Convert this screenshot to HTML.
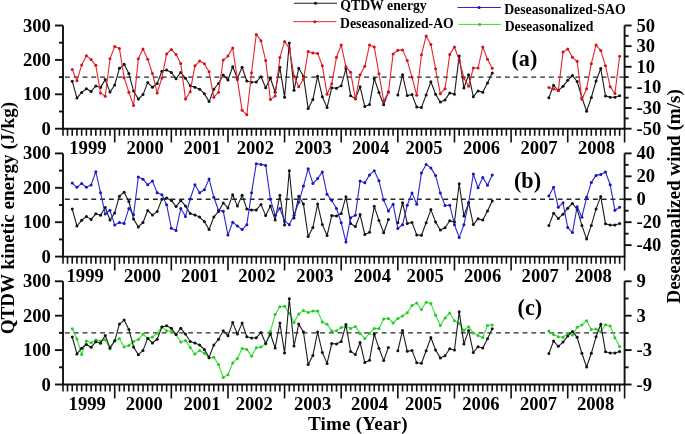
<!DOCTYPE html><html><head><meta charset="utf-8"><style>html,body{margin:0;padding:0;background:#fff;}svg{display:block;will-change:transform;}text{font-family:"Liberation Serif",serif;font-weight:bold;fill:#000;}</style></head><body>
<svg width="685" height="434" viewBox="0 0 685 434">
<rect width="685" height="434" fill="#fff"/>
<path d="M63 25.5 V128.7 H624.6 V25.5" fill="none" stroke="#111" stroke-width="1.9"/>
<path d="M63 128.7 h-8" stroke="#111" stroke-width="1.9"/>
<text x="50.8" y="128.2" font-size="18.6" text-anchor="end" dominant-baseline="central">0</text>
<path d="M63 111.5 h-4" stroke="#111" stroke-width="1.9"/>
<path d="M63 94.3 h-8" stroke="#111" stroke-width="1.9"/>
<text x="50.8" y="93.8" font-size="18.6" text-anchor="end" dominant-baseline="central">100</text>
<path d="M63 77.1 h-4" stroke="#111" stroke-width="1.9"/>
<path d="M63 59.9 h-8" stroke="#111" stroke-width="1.9"/>
<text x="50.8" y="59.4" font-size="18.6" text-anchor="end" dominant-baseline="central">200</text>
<path d="M63 42.7 h-4" stroke="#111" stroke-width="1.9"/>
<path d="M63 25.5 h-8" stroke="#111" stroke-width="1.9"/>
<text x="50.8" y="25" font-size="18.6" text-anchor="end" dominant-baseline="central">300</text>
<path d="M624.6 25.5 h7" stroke="#111" stroke-width="1.9"/>
<text x="636.5" y="25" font-size="18.6" dominant-baseline="central">50</text>
<path d="M624.6 46.14 h7" stroke="#111" stroke-width="1.9"/>
<text x="636.5" y="45.64" font-size="18.6" dominant-baseline="central">30</text>
<path d="M624.6 66.78 h7" stroke="#111" stroke-width="1.9"/>
<text x="636.5" y="66.28" font-size="18.6" dominant-baseline="central">10</text>
<path d="M624.6 87.42 h7" stroke="#111" stroke-width="1.9"/>
<text x="636.5" y="86.92" font-size="18.6" dominant-baseline="central">-10</text>
<path d="M624.6 108.06 h7" stroke="#111" stroke-width="1.9"/>
<text x="636.5" y="107.56" font-size="18.6" dominant-baseline="central">-30</text>
<path d="M624.6 128.7 h7" stroke="#111" stroke-width="1.9"/>
<text x="636.5" y="128.2" font-size="18.6" dominant-baseline="central">-50</text>
<path d="M624.6 35.82 h4" stroke="#111" stroke-width="1.9"/>
<path d="M624.6 56.46 h4" stroke="#111" stroke-width="1.9"/>
<path d="M624.6 77.1 h4" stroke="#111" stroke-width="1.9"/>
<path d="M624.6 97.74 h4" stroke="#111" stroke-width="1.9"/>
<path d="M624.6 118.38 h4" stroke="#111" stroke-width="1.9"/>
<path d="M63 128.7 v7.1 M67.51 128.7 v7.1 M72.23 128.7 v7.1 M76.95 128.7 v7.1 M81.67 128.7 v7.1 M86.39 128.7 v7.1 M91.11 128.7 v7.1 M95.82 128.7 v7.1 M100.54 128.7 v7.1 M105.26 128.7 v7.1 M109.98 128.7 v7.1 M114.7 128.7 v13.9 M119.42 128.7 v7.1 M124.14 128.7 v7.1 M128.86 128.7 v7.1 M133.58 128.7 v7.1 M138.3 128.7 v7.1 M143.01 128.7 v7.1 M147.73 128.7 v7.1 M152.45 128.7 v7.1 M157.17 128.7 v7.1 M161.89 128.7 v7.1 M166.61 128.7 v7.1 M171.33 128.7 v13.9 M176.05 128.7 v7.1 M180.77 128.7 v7.1 M185.49 128.7 v7.1 M190.2 128.7 v7.1 M194.92 128.7 v7.1 M199.64 128.7 v7.1 M204.36 128.7 v7.1 M209.08 128.7 v7.1 M213.8 128.7 v7.1 M218.52 128.7 v7.1 M223.24 128.7 v7.1 M227.96 128.7 v13.9 M232.68 128.7 v7.1 M237.39 128.7 v7.1 M242.11 128.7 v7.1 M246.83 128.7 v7.1 M251.55 128.7 v7.1 M256.27 128.7 v7.1 M260.99 128.7 v7.1 M265.71 128.7 v7.1 M270.43 128.7 v7.1 M275.15 128.7 v7.1 M279.87 128.7 v7.1 M284.58 128.7 v13.9 M289.3 128.7 v7.1 M294.02 128.7 v7.1 M298.74 128.7 v7.1 M303.46 128.7 v7.1 M308.18 128.7 v7.1 M312.9 128.7 v7.1 M317.62 128.7 v7.1 M322.34 128.7 v7.1 M327.06 128.7 v7.1 M331.77 128.7 v7.1 M336.49 128.7 v7.1 M341.21 128.7 v13.9 M345.93 128.7 v7.1 M350.65 128.7 v7.1 M355.37 128.7 v7.1 M360.09 128.7 v7.1 M364.81 128.7 v7.1 M369.53 128.7 v7.1 M374.25 128.7 v7.1 M378.96 128.7 v7.1 M383.68 128.7 v7.1 M388.4 128.7 v7.1 M393.12 128.7 v7.1 M397.84 128.7 v13.9 M402.56 128.7 v7.1 M407.28 128.7 v7.1 M412 128.7 v7.1 M416.72 128.7 v7.1 M421.44 128.7 v7.1 M426.15 128.7 v7.1 M430.87 128.7 v7.1 M435.59 128.7 v7.1 M440.31 128.7 v7.1 M445.03 128.7 v7.1 M449.75 128.7 v7.1 M454.47 128.7 v13.9 M459.19 128.7 v7.1 M463.91 128.7 v7.1 M468.62 128.7 v7.1 M473.34 128.7 v7.1 M478.06 128.7 v7.1 M482.78 128.7 v7.1 M487.5 128.7 v7.1 M492.22 128.7 v7.1 M496.94 128.7 v7.1 M501.66 128.7 v7.1 M506.38 128.7 v7.1 M511.1 128.7 v13.9 M515.82 128.7 v7.1 M520.53 128.7 v7.1 M525.25 128.7 v7.1 M529.97 128.7 v7.1 M534.69 128.7 v7.1 M539.41 128.7 v7.1 M544.13 128.7 v7.1 M548.85 128.7 v7.1 M553.57 128.7 v7.1 M558.29 128.7 v7.1 M563 128.7 v7.1 M567.72 128.7 v13.9 M572.44 128.7 v7.1 M577.16 128.7 v7.1 M581.88 128.7 v7.1 M586.6 128.7 v7.1 M591.32 128.7 v7.1 M596.04 128.7 v7.1 M600.76 128.7 v7.1 M605.48 128.7 v7.1 M610.2 128.7 v7.1 M614.91 128.7 v7.1 M619.63 128.7 v7.1 M624.6 128.7 v13.9" stroke="#111" stroke-width="1.6"/>
<text x="87.9" y="153.6" font-size="18.6" text-anchor="middle">1999</text>
<text x="145.1" y="153.6" font-size="18.6" text-anchor="middle">2000</text>
<text x="202.2" y="153.6" font-size="18.6" text-anchor="middle">2001</text>
<text x="255.35" y="153.6" font-size="18.6" text-anchor="middle">2002</text>
<text x="313.25" y="153.6" font-size="18.6" text-anchor="middle">2003</text>
<text x="370.6" y="153.6" font-size="18.6" text-anchor="middle">2004</text>
<text x="424" y="153.6" font-size="18.6" text-anchor="middle">2005</text>
<text x="481.55" y="153.6" font-size="18.6" text-anchor="middle">2006</text>
<text x="539" y="153.6" font-size="18.6" text-anchor="middle">2007</text>
<text x="596.55" y="153.6" font-size="18.6" text-anchor="middle">2008</text>
<path d="M64.9 77.1 H624.6" stroke="#262626" stroke-width="1.4" stroke-dasharray="4.9 3.9"/>
<path d="M63 153.4 V256.6 H624.6 V153.4" fill="none" stroke="#111" stroke-width="1.9"/>
<path d="M63 256.6 h-8" stroke="#111" stroke-width="1.9"/>
<text x="50.8" y="256.1" font-size="18.6" text-anchor="end" dominant-baseline="central">0</text>
<path d="M63 239.4 h-4" stroke="#111" stroke-width="1.9"/>
<path d="M63 222.2 h-8" stroke="#111" stroke-width="1.9"/>
<text x="50.8" y="221.7" font-size="18.6" text-anchor="end" dominant-baseline="central">100</text>
<path d="M63 205 h-4" stroke="#111" stroke-width="1.9"/>
<path d="M63 187.8 h-8" stroke="#111" stroke-width="1.9"/>
<text x="50.8" y="187.3" font-size="18.6" text-anchor="end" dominant-baseline="central">200</text>
<path d="M63 170.6 h-4" stroke="#111" stroke-width="1.9"/>
<path d="M63 153.4 h-8" stroke="#111" stroke-width="1.9"/>
<text x="50.8" y="152.9" font-size="18.6" text-anchor="end" dominant-baseline="central">300</text>
<path d="M624.6 153.4 h7" stroke="#111" stroke-width="1.9"/>
<text x="636.5" y="152.9" font-size="18.6" dominant-baseline="central">40</text>
<path d="M624.6 176.33 h7" stroke="#111" stroke-width="1.9"/>
<text x="636.5" y="175.83" font-size="18.6" dominant-baseline="central">20</text>
<path d="M624.6 199.27 h7" stroke="#111" stroke-width="1.9"/>
<text x="636.5" y="198.77" font-size="18.6" dominant-baseline="central">0</text>
<path d="M624.6 222.2 h7" stroke="#111" stroke-width="1.9"/>
<text x="636.5" y="221.7" font-size="18.6" dominant-baseline="central">-20</text>
<path d="M624.6 245.13 h7" stroke="#111" stroke-width="1.9"/>
<text x="636.5" y="244.63" font-size="18.6" dominant-baseline="central">-40</text>
<path d="M624.6 164.87 h4" stroke="#111" stroke-width="1.9"/>
<path d="M624.6 187.8 h4" stroke="#111" stroke-width="1.9"/>
<path d="M624.6 210.73 h4" stroke="#111" stroke-width="1.9"/>
<path d="M624.6 233.67 h4" stroke="#111" stroke-width="1.9"/>
<path d="M63 256.6 v7.1 M67.51 256.6 v7.1 M72.23 256.6 v7.1 M76.95 256.6 v7.1 M81.67 256.6 v7.1 M86.39 256.6 v7.1 M91.11 256.6 v7.1 M95.82 256.6 v7.1 M100.54 256.6 v7.1 M105.26 256.6 v7.1 M109.98 256.6 v7.1 M114.7 256.6 v13.9 M119.42 256.6 v7.1 M124.14 256.6 v7.1 M128.86 256.6 v7.1 M133.58 256.6 v7.1 M138.3 256.6 v7.1 M143.01 256.6 v7.1 M147.73 256.6 v7.1 M152.45 256.6 v7.1 M157.17 256.6 v7.1 M161.89 256.6 v7.1 M166.61 256.6 v7.1 M171.33 256.6 v13.9 M176.05 256.6 v7.1 M180.77 256.6 v7.1 M185.49 256.6 v7.1 M190.2 256.6 v7.1 M194.92 256.6 v7.1 M199.64 256.6 v7.1 M204.36 256.6 v7.1 M209.08 256.6 v7.1 M213.8 256.6 v7.1 M218.52 256.6 v7.1 M223.24 256.6 v7.1 M227.96 256.6 v13.9 M232.68 256.6 v7.1 M237.39 256.6 v7.1 M242.11 256.6 v7.1 M246.83 256.6 v7.1 M251.55 256.6 v7.1 M256.27 256.6 v7.1 M260.99 256.6 v7.1 M265.71 256.6 v7.1 M270.43 256.6 v7.1 M275.15 256.6 v7.1 M279.87 256.6 v7.1 M284.58 256.6 v13.9 M289.3 256.6 v7.1 M294.02 256.6 v7.1 M298.74 256.6 v7.1 M303.46 256.6 v7.1 M308.18 256.6 v7.1 M312.9 256.6 v7.1 M317.62 256.6 v7.1 M322.34 256.6 v7.1 M327.06 256.6 v7.1 M331.77 256.6 v7.1 M336.49 256.6 v7.1 M341.21 256.6 v13.9 M345.93 256.6 v7.1 M350.65 256.6 v7.1 M355.37 256.6 v7.1 M360.09 256.6 v7.1 M364.81 256.6 v7.1 M369.53 256.6 v7.1 M374.25 256.6 v7.1 M378.96 256.6 v7.1 M383.68 256.6 v7.1 M388.4 256.6 v7.1 M393.12 256.6 v7.1 M397.84 256.6 v13.9 M402.56 256.6 v7.1 M407.28 256.6 v7.1 M412 256.6 v7.1 M416.72 256.6 v7.1 M421.44 256.6 v7.1 M426.15 256.6 v7.1 M430.87 256.6 v7.1 M435.59 256.6 v7.1 M440.31 256.6 v7.1 M445.03 256.6 v7.1 M449.75 256.6 v7.1 M454.47 256.6 v13.9 M459.19 256.6 v7.1 M463.91 256.6 v7.1 M468.62 256.6 v7.1 M473.34 256.6 v7.1 M478.06 256.6 v7.1 M482.78 256.6 v7.1 M487.5 256.6 v7.1 M492.22 256.6 v7.1 M496.94 256.6 v7.1 M501.66 256.6 v7.1 M506.38 256.6 v7.1 M511.1 256.6 v13.9 M515.82 256.6 v7.1 M520.53 256.6 v7.1 M525.25 256.6 v7.1 M529.97 256.6 v7.1 M534.69 256.6 v7.1 M539.41 256.6 v7.1 M544.13 256.6 v7.1 M548.85 256.6 v7.1 M553.57 256.6 v7.1 M558.29 256.6 v7.1 M563 256.6 v7.1 M567.72 256.6 v13.9 M572.44 256.6 v7.1 M577.16 256.6 v7.1 M581.88 256.6 v7.1 M586.6 256.6 v7.1 M591.32 256.6 v7.1 M596.04 256.6 v7.1 M600.76 256.6 v7.1 M605.48 256.6 v7.1 M610.2 256.6 v7.1 M614.91 256.6 v7.1 M619.63 256.6 v7.1 M624.6 256.6 v13.9" stroke="#111" stroke-width="1.6"/>
<text x="85.15" y="281.5" font-size="18.6" text-anchor="middle">1999</text>
<text x="142.5" y="281.5" font-size="18.6" text-anchor="middle">2000</text>
<text x="199.7" y="281.5" font-size="18.6" text-anchor="middle">2001</text>
<text x="256.9" y="281.5" font-size="18.6" text-anchor="middle">2002</text>
<text x="314.95" y="281.5" font-size="18.6" text-anchor="middle">2003</text>
<text x="372.35" y="281.5" font-size="18.6" text-anchor="middle">2004</text>
<text x="425.2" y="281.5" font-size="18.6" text-anchor="middle">2005</text>
<text x="482.6" y="281.5" font-size="18.6" text-anchor="middle">2006</text>
<text x="540.2" y="281.5" font-size="18.6" text-anchor="middle">2007</text>
<text x="593.25" y="281.5" font-size="18.6" text-anchor="middle">2008</text>
<path d="M64.9 199.27 H624.6" stroke="#262626" stroke-width="1.4" stroke-dasharray="4.9 3.9"/>
<path d="M63 281.3 V384.5 H624.6 V281.3" fill="none" stroke="#111" stroke-width="1.9"/>
<path d="M63 384.5 h-8" stroke="#111" stroke-width="1.9"/>
<text x="50.8" y="384" font-size="18.6" text-anchor="end" dominant-baseline="central">0</text>
<path d="M63 367.3 h-4" stroke="#111" stroke-width="1.9"/>
<path d="M63 350.1 h-8" stroke="#111" stroke-width="1.9"/>
<text x="50.8" y="349.6" font-size="18.6" text-anchor="end" dominant-baseline="central">100</text>
<path d="M63 332.9 h-4" stroke="#111" stroke-width="1.9"/>
<path d="M63 315.7 h-8" stroke="#111" stroke-width="1.9"/>
<text x="50.8" y="315.2" font-size="18.6" text-anchor="end" dominant-baseline="central">200</text>
<path d="M63 298.5 h-4" stroke="#111" stroke-width="1.9"/>
<path d="M63 281.3 h-8" stroke="#111" stroke-width="1.9"/>
<text x="50.8" y="280.8" font-size="18.6" text-anchor="end" dominant-baseline="central">300</text>
<path d="M624.6 281.3 h7" stroke="#111" stroke-width="1.9"/>
<text x="636.5" y="280.8" font-size="18.6" dominant-baseline="central">9</text>
<path d="M624.6 315.7 h7" stroke="#111" stroke-width="1.9"/>
<text x="636.5" y="315.2" font-size="18.6" dominant-baseline="central">3</text>
<path d="M624.6 350.1 h7" stroke="#111" stroke-width="1.9"/>
<text x="636.5" y="349.6" font-size="18.6" dominant-baseline="central">-3</text>
<path d="M624.6 384.5 h7" stroke="#111" stroke-width="1.9"/>
<text x="636.5" y="384" font-size="18.6" dominant-baseline="central">-9</text>
<path d="M624.6 298.5 h4" stroke="#111" stroke-width="1.9"/>
<path d="M624.6 332.9 h4" stroke="#111" stroke-width="1.9"/>
<path d="M624.6 367.3 h4" stroke="#111" stroke-width="1.9"/>
<path d="M63 384.5 v7.1 M67.51 384.5 v7.1 M72.23 384.5 v7.1 M76.95 384.5 v7.1 M81.67 384.5 v7.1 M86.39 384.5 v7.1 M91.11 384.5 v7.1 M95.82 384.5 v7.1 M100.54 384.5 v7.1 M105.26 384.5 v7.1 M109.98 384.5 v7.1 M114.7 384.5 v13.9 M119.42 384.5 v7.1 M124.14 384.5 v7.1 M128.86 384.5 v7.1 M133.58 384.5 v7.1 M138.3 384.5 v7.1 M143.01 384.5 v7.1 M147.73 384.5 v7.1 M152.45 384.5 v7.1 M157.17 384.5 v7.1 M161.89 384.5 v7.1 M166.61 384.5 v7.1 M171.33 384.5 v13.9 M176.05 384.5 v7.1 M180.77 384.5 v7.1 M185.49 384.5 v7.1 M190.2 384.5 v7.1 M194.92 384.5 v7.1 M199.64 384.5 v7.1 M204.36 384.5 v7.1 M209.08 384.5 v7.1 M213.8 384.5 v7.1 M218.52 384.5 v7.1 M223.24 384.5 v7.1 M227.96 384.5 v13.9 M232.68 384.5 v7.1 M237.39 384.5 v7.1 M242.11 384.5 v7.1 M246.83 384.5 v7.1 M251.55 384.5 v7.1 M256.27 384.5 v7.1 M260.99 384.5 v7.1 M265.71 384.5 v7.1 M270.43 384.5 v7.1 M275.15 384.5 v7.1 M279.87 384.5 v7.1 M284.58 384.5 v13.9 M289.3 384.5 v7.1 M294.02 384.5 v7.1 M298.74 384.5 v7.1 M303.46 384.5 v7.1 M308.18 384.5 v7.1 M312.9 384.5 v7.1 M317.62 384.5 v7.1 M322.34 384.5 v7.1 M327.06 384.5 v7.1 M331.77 384.5 v7.1 M336.49 384.5 v7.1 M341.21 384.5 v13.9 M345.93 384.5 v7.1 M350.65 384.5 v7.1 M355.37 384.5 v7.1 M360.09 384.5 v7.1 M364.81 384.5 v7.1 M369.53 384.5 v7.1 M374.25 384.5 v7.1 M378.96 384.5 v7.1 M383.68 384.5 v7.1 M388.4 384.5 v7.1 M393.12 384.5 v7.1 M397.84 384.5 v13.9 M402.56 384.5 v7.1 M407.28 384.5 v7.1 M412 384.5 v7.1 M416.72 384.5 v7.1 M421.44 384.5 v7.1 M426.15 384.5 v7.1 M430.87 384.5 v7.1 M435.59 384.5 v7.1 M440.31 384.5 v7.1 M445.03 384.5 v7.1 M449.75 384.5 v7.1 M454.47 384.5 v13.9 M459.19 384.5 v7.1 M463.91 384.5 v7.1 M468.62 384.5 v7.1 M473.34 384.5 v7.1 M478.06 384.5 v7.1 M482.78 384.5 v7.1 M487.5 384.5 v7.1 M492.22 384.5 v7.1 M496.94 384.5 v7.1 M501.66 384.5 v7.1 M506.38 384.5 v7.1 M511.1 384.5 v13.9 M515.82 384.5 v7.1 M520.53 384.5 v7.1 M525.25 384.5 v7.1 M529.97 384.5 v7.1 M534.69 384.5 v7.1 M539.41 384.5 v7.1 M544.13 384.5 v7.1 M548.85 384.5 v7.1 M553.57 384.5 v7.1 M558.29 384.5 v7.1 M563 384.5 v7.1 M567.72 384.5 v13.9 M572.44 384.5 v7.1 M577.16 384.5 v7.1 M581.88 384.5 v7.1 M586.6 384.5 v7.1 M591.32 384.5 v7.1 M596.04 384.5 v7.1 M600.76 384.5 v7.1 M605.48 384.5 v7.1 M610.2 384.5 v7.1 M614.91 384.5 v7.1 M619.63 384.5 v7.1 M624.6 384.5 v13.9" stroke="#111" stroke-width="1.6"/>
<text x="87.2" y="410.1" font-size="18.6" text-anchor="middle">1999</text>
<text x="144.3" y="410.1" font-size="18.6" text-anchor="middle">2000</text>
<text x="202" y="410.1" font-size="18.6" text-anchor="middle">2001</text>
<text x="254.3" y="410.1" font-size="18.6" text-anchor="middle">2002</text>
<text x="312.6" y="410.1" font-size="18.6" text-anchor="middle">2003</text>
<text x="369.55" y="410.1" font-size="18.6" text-anchor="middle">2004</text>
<text x="423.5" y="410.1" font-size="18.6" text-anchor="middle">2005</text>
<text x="480.9" y="410.1" font-size="18.6" text-anchor="middle">2006</text>
<text x="538.5" y="410.1" font-size="18.6" text-anchor="middle">2007</text>
<text x="595.6" y="410.1" font-size="18.6" text-anchor="middle">2008</text>
<path d="M64.9 332.9 H624.6" stroke="#262626" stroke-width="1.4" stroke-dasharray="4.9 3.9"/>
<polyline points="72.23,81.2 76.95,98.1 81.67,92.4 86.39,88.7 91.11,91.5 95.82,85.9 100.54,87.4 105.26,79.6 109.98,92.1 114.7,85 119.42,68.3 124.14,64.3 128.86,73.6 133.58,91.1 138.3,99 143.01,94.6 147.73,82.6 152.45,87.2 157.17,83.5 161.89,71.3 166.61,70 171.33,72.5 176.05,78.7 180.77,72.5 185.49,78.2 190.2,85.7 194.92,87.2 199.64,89.2 204.36,93.7 209.08,101.6 213.8,89.2 218.52,83.5 223.24,75 227.96,80 232.68,66.8 237.39,78.2 242.11,67.3 246.83,81 251.55,82.2 256.27,82 260.99,76.7 265.71,87.7 270.43,78.2 275.15,92.2 279.87,67.3 284.58,97.2 289.3,42.9 294.02,90.2 298.74,68.3 303.46,76.2 308.18,108.6 312.9,99.6 317.62,76.2 322.34,96.7 327.06,107.6 331.77,87.7 336.49,88.2 341.21,85.7 345.93,68.8 350.65,95.7 355.37,98.6 360.09,86.7 364.81,106.6 369.53,104.4 374.25,78.4 378.96,92.5 383.68,104.8 388.4,91.7" fill="none" stroke="#1a1a1a" stroke-width="1.1" stroke-linejoin="round"/>
<polyline points="397.84,94.9 402.56,74.8 407.28,95.5 412,94.6 416.72,107 421.44,107.4 426.15,94.9 430.87,81.7 435.59,94.2 440.31,102.1 445.03,99.9 449.75,92.9 454.47,94.2 459.19,55.9 463.91,88.1 468.62,74.8 473.34,96.7 478.06,90.9 482.78,92.2 487.5,83 492.22,73" fill="none" stroke="#1a1a1a" stroke-width="1.1" stroke-linejoin="round"/>
<polyline points="548.85,97.7 553.57,85.3 558.29,90.5 563,86.3 567.72,80.3 572.44,75.6 577.16,81.5 581.88,97.5 586.6,111.2 591.32,97.5 596.04,81 600.76,68.5 605.48,95.9 610.2,97.2 614.91,97.2 619.63,95.7" fill="none" stroke="#1a1a1a" stroke-width="1.1" stroke-linejoin="round"/>
<circle cx="72.23" cy="81.2" r="1.5" fill="#111"/>
<circle cx="76.95" cy="98.1" r="1.5" fill="#111"/>
<circle cx="81.67" cy="92.4" r="1.5" fill="#111"/>
<circle cx="86.39" cy="88.7" r="1.5" fill="#111"/>
<circle cx="91.11" cy="91.5" r="1.5" fill="#111"/>
<circle cx="95.82" cy="85.9" r="1.5" fill="#111"/>
<circle cx="100.54" cy="87.4" r="1.5" fill="#111"/>
<circle cx="105.26" cy="79.6" r="1.5" fill="#111"/>
<circle cx="109.98" cy="92.1" r="1.5" fill="#111"/>
<circle cx="114.7" cy="85" r="1.5" fill="#111"/>
<circle cx="119.42" cy="68.3" r="1.5" fill="#111"/>
<circle cx="124.14" cy="64.3" r="1.5" fill="#111"/>
<circle cx="128.86" cy="73.6" r="1.5" fill="#111"/>
<circle cx="133.58" cy="91.1" r="1.5" fill="#111"/>
<circle cx="138.3" cy="99" r="1.5" fill="#111"/>
<circle cx="143.01" cy="94.6" r="1.5" fill="#111"/>
<circle cx="147.73" cy="82.6" r="1.5" fill="#111"/>
<circle cx="152.45" cy="87.2" r="1.5" fill="#111"/>
<circle cx="157.17" cy="83.5" r="1.5" fill="#111"/>
<circle cx="161.89" cy="71.3" r="1.5" fill="#111"/>
<circle cx="166.61" cy="70" r="1.5" fill="#111"/>
<circle cx="171.33" cy="72.5" r="1.5" fill="#111"/>
<circle cx="176.05" cy="78.7" r="1.5" fill="#111"/>
<circle cx="180.77" cy="72.5" r="1.5" fill="#111"/>
<circle cx="185.49" cy="78.2" r="1.5" fill="#111"/>
<circle cx="190.2" cy="85.7" r="1.5" fill="#111"/>
<circle cx="194.92" cy="87.2" r="1.5" fill="#111"/>
<circle cx="199.64" cy="89.2" r="1.5" fill="#111"/>
<circle cx="204.36" cy="93.7" r="1.5" fill="#111"/>
<circle cx="209.08" cy="101.6" r="1.5" fill="#111"/>
<circle cx="213.8" cy="89.2" r="1.5" fill="#111"/>
<circle cx="218.52" cy="83.5" r="1.5" fill="#111"/>
<circle cx="223.24" cy="75" r="1.5" fill="#111"/>
<circle cx="227.96" cy="80" r="1.5" fill="#111"/>
<circle cx="232.68" cy="66.8" r="1.5" fill="#111"/>
<circle cx="237.39" cy="78.2" r="1.5" fill="#111"/>
<circle cx="242.11" cy="67.3" r="1.5" fill="#111"/>
<circle cx="246.83" cy="81" r="1.5" fill="#111"/>
<circle cx="251.55" cy="82.2" r="1.5" fill="#111"/>
<circle cx="256.27" cy="82" r="1.5" fill="#111"/>
<circle cx="260.99" cy="76.7" r="1.5" fill="#111"/>
<circle cx="265.71" cy="87.7" r="1.5" fill="#111"/>
<circle cx="270.43" cy="78.2" r="1.5" fill="#111"/>
<circle cx="275.15" cy="92.2" r="1.5" fill="#111"/>
<circle cx="279.87" cy="67.3" r="1.5" fill="#111"/>
<circle cx="284.58" cy="97.2" r="1.5" fill="#111"/>
<circle cx="289.3" cy="42.9" r="1.5" fill="#111"/>
<circle cx="294.02" cy="90.2" r="1.5" fill="#111"/>
<circle cx="298.74" cy="68.3" r="1.5" fill="#111"/>
<circle cx="303.46" cy="76.2" r="1.5" fill="#111"/>
<circle cx="308.18" cy="108.6" r="1.5" fill="#111"/>
<circle cx="312.9" cy="99.6" r="1.5" fill="#111"/>
<circle cx="317.62" cy="76.2" r="1.5" fill="#111"/>
<circle cx="322.34" cy="96.7" r="1.5" fill="#111"/>
<circle cx="327.06" cy="107.6" r="1.5" fill="#111"/>
<circle cx="331.77" cy="87.7" r="1.5" fill="#111"/>
<circle cx="336.49" cy="88.2" r="1.5" fill="#111"/>
<circle cx="341.21" cy="85.7" r="1.5" fill="#111"/>
<circle cx="345.93" cy="68.8" r="1.5" fill="#111"/>
<circle cx="350.65" cy="95.7" r="1.5" fill="#111"/>
<circle cx="355.37" cy="98.6" r="1.5" fill="#111"/>
<circle cx="360.09" cy="86.7" r="1.5" fill="#111"/>
<circle cx="364.81" cy="106.6" r="1.5" fill="#111"/>
<circle cx="369.53" cy="104.4" r="1.5" fill="#111"/>
<circle cx="374.25" cy="78.4" r="1.5" fill="#111"/>
<circle cx="378.96" cy="92.5" r="1.5" fill="#111"/>
<circle cx="383.68" cy="104.8" r="1.5" fill="#111"/>
<circle cx="388.4" cy="91.7" r="1.5" fill="#111"/>
<circle cx="397.84" cy="94.9" r="1.5" fill="#111"/>
<circle cx="402.56" cy="74.8" r="1.5" fill="#111"/>
<circle cx="407.28" cy="95.5" r="1.5" fill="#111"/>
<circle cx="412" cy="94.6" r="1.5" fill="#111"/>
<circle cx="416.72" cy="107" r="1.5" fill="#111"/>
<circle cx="421.44" cy="107.4" r="1.5" fill="#111"/>
<circle cx="426.15" cy="94.9" r="1.5" fill="#111"/>
<circle cx="430.87" cy="81.7" r="1.5" fill="#111"/>
<circle cx="435.59" cy="94.2" r="1.5" fill="#111"/>
<circle cx="440.31" cy="102.1" r="1.5" fill="#111"/>
<circle cx="445.03" cy="99.9" r="1.5" fill="#111"/>
<circle cx="449.75" cy="92.9" r="1.5" fill="#111"/>
<circle cx="454.47" cy="94.2" r="1.5" fill="#111"/>
<circle cx="459.19" cy="55.9" r="1.5" fill="#111"/>
<circle cx="463.91" cy="88.1" r="1.5" fill="#111"/>
<circle cx="468.62" cy="74.8" r="1.5" fill="#111"/>
<circle cx="473.34" cy="96.7" r="1.5" fill="#111"/>
<circle cx="478.06" cy="90.9" r="1.5" fill="#111"/>
<circle cx="482.78" cy="92.2" r="1.5" fill="#111"/>
<circle cx="487.5" cy="83" r="1.5" fill="#111"/>
<circle cx="492.22" cy="73" r="1.5" fill="#111"/>
<circle cx="548.85" cy="97.7" r="1.5" fill="#111"/>
<circle cx="553.57" cy="85.3" r="1.5" fill="#111"/>
<circle cx="558.29" cy="90.5" r="1.5" fill="#111"/>
<circle cx="563" cy="86.3" r="1.5" fill="#111"/>
<circle cx="567.72" cy="80.3" r="1.5" fill="#111"/>
<circle cx="572.44" cy="75.6" r="1.5" fill="#111"/>
<circle cx="577.16" cy="81.5" r="1.5" fill="#111"/>
<circle cx="581.88" cy="97.5" r="1.5" fill="#111"/>
<circle cx="586.6" cy="111.2" r="1.5" fill="#111"/>
<circle cx="591.32" cy="97.5" r="1.5" fill="#111"/>
<circle cx="596.04" cy="81" r="1.5" fill="#111"/>
<circle cx="600.76" cy="68.5" r="1.5" fill="#111"/>
<circle cx="605.48" cy="95.9" r="1.5" fill="#111"/>
<circle cx="610.2" cy="97.2" r="1.5" fill="#111"/>
<circle cx="614.91" cy="97.2" r="1.5" fill="#111"/>
<circle cx="619.63" cy="95.7" r="1.5" fill="#111"/>
<polyline points="72.23,69.5 76.95,80.7 81.67,65.1 86.39,55.8 91.11,59.6 95.82,65.3 100.54,92.9 105.26,96.2 109.98,58.8 114.7,46.6 119.42,48.6 124.14,77.7 128.86,92.2 133.58,105.6 138.3,58.8 143.01,48.9 147.73,59.3 152.45,73.5 157.17,92.9 161.89,78 166.61,53.9 171.33,49.4 176.05,54.4 180.77,63.6 185.49,99.1 190.2,91.7 194.92,65.8 199.64,61.1 204.36,63.8 209.08,71.8 213.8,97.2 218.52,92.2 223.24,60.1 227.96,56.1 232.68,47.9 237.39,79.7 242.11,110.3 246.83,114.8 251.55,72.8 256.27,34.4 260.99,40.7 265.71,60.6 270.43,99.6 275.15,95.9 279.87,57.6 284.58,41.4 289.3,48.4 294.02,76.2 298.74,86.7 303.46,79.2 308.18,51.4 312.9,52.9 317.62,53.4 322.34,65.8 327.06,94.2 331.77,83.7 336.49,57.3 341.21,44.9 345.93,66.8 350.65,72.3 355.37,99.1 360.09,74.8 364.81,66.3 369.53,45.1 374.25,46.9 378.96,73.8 383.68,101.1 388.4,92.5 393.12,53.9 397.84,50.3 402.56,49.9 407.28,60.6 412,77.3 416.72,95.3 421.44,54.8 426.15,35.9 430.87,44.4 435.59,68.8 440.31,93.7 445.03,88.7 449.75,54.4 454.47,46.9 459.19,60.2 463.91,78 468.62,86.2 473.34,68 478.06,68 482.78,46.9 487.5,59.3 492.22,68.3" fill="none" stroke="#e5252d" stroke-width="1.1" stroke-linejoin="round"/>
<polyline points="548.85,87.5 553.57,88.9 558.29,90.6 563,52.1 567.72,49 572.44,57.3 577.16,61.3 581.88,99.3 586.6,88.7 591.32,63.7 596.04,45.1 600.76,50.6 605.48,65.8 610.2,86.7 614.91,93.4 619.63,56.3" fill="none" stroke="#e5252d" stroke-width="1.1" stroke-linejoin="round"/>
<circle cx="72.23" cy="69.5" r="1.5" fill="#d4111b"/>
<circle cx="76.95" cy="80.7" r="1.5" fill="#d4111b"/>
<circle cx="81.67" cy="65.1" r="1.5" fill="#d4111b"/>
<circle cx="86.39" cy="55.8" r="1.5" fill="#d4111b"/>
<circle cx="91.11" cy="59.6" r="1.5" fill="#d4111b"/>
<circle cx="95.82" cy="65.3" r="1.5" fill="#d4111b"/>
<circle cx="100.54" cy="92.9" r="1.5" fill="#d4111b"/>
<circle cx="105.26" cy="96.2" r="1.5" fill="#d4111b"/>
<circle cx="109.98" cy="58.8" r="1.5" fill="#d4111b"/>
<circle cx="114.7" cy="46.6" r="1.5" fill="#d4111b"/>
<circle cx="119.42" cy="48.6" r="1.5" fill="#d4111b"/>
<circle cx="124.14" cy="77.7" r="1.5" fill="#d4111b"/>
<circle cx="128.86" cy="92.2" r="1.5" fill="#d4111b"/>
<circle cx="133.58" cy="105.6" r="1.5" fill="#d4111b"/>
<circle cx="138.3" cy="58.8" r="1.5" fill="#d4111b"/>
<circle cx="143.01" cy="48.9" r="1.5" fill="#d4111b"/>
<circle cx="147.73" cy="59.3" r="1.5" fill="#d4111b"/>
<circle cx="152.45" cy="73.5" r="1.5" fill="#d4111b"/>
<circle cx="157.17" cy="92.9" r="1.5" fill="#d4111b"/>
<circle cx="161.89" cy="78" r="1.5" fill="#d4111b"/>
<circle cx="166.61" cy="53.9" r="1.5" fill="#d4111b"/>
<circle cx="171.33" cy="49.4" r="1.5" fill="#d4111b"/>
<circle cx="176.05" cy="54.4" r="1.5" fill="#d4111b"/>
<circle cx="180.77" cy="63.6" r="1.5" fill="#d4111b"/>
<circle cx="185.49" cy="99.1" r="1.5" fill="#d4111b"/>
<circle cx="190.2" cy="91.7" r="1.5" fill="#d4111b"/>
<circle cx="194.92" cy="65.8" r="1.5" fill="#d4111b"/>
<circle cx="199.64" cy="61.1" r="1.5" fill="#d4111b"/>
<circle cx="204.36" cy="63.8" r="1.5" fill="#d4111b"/>
<circle cx="209.08" cy="71.8" r="1.5" fill="#d4111b"/>
<circle cx="213.8" cy="97.2" r="1.5" fill="#d4111b"/>
<circle cx="218.52" cy="92.2" r="1.5" fill="#d4111b"/>
<circle cx="223.24" cy="60.1" r="1.5" fill="#d4111b"/>
<circle cx="227.96" cy="56.1" r="1.5" fill="#d4111b"/>
<circle cx="232.68" cy="47.9" r="1.5" fill="#d4111b"/>
<circle cx="237.39" cy="79.7" r="1.5" fill="#d4111b"/>
<circle cx="242.11" cy="110.3" r="1.5" fill="#d4111b"/>
<circle cx="246.83" cy="114.8" r="1.5" fill="#d4111b"/>
<circle cx="251.55" cy="72.8" r="1.5" fill="#d4111b"/>
<circle cx="256.27" cy="34.4" r="1.5" fill="#d4111b"/>
<circle cx="260.99" cy="40.7" r="1.5" fill="#d4111b"/>
<circle cx="265.71" cy="60.6" r="1.5" fill="#d4111b"/>
<circle cx="270.43" cy="99.6" r="1.5" fill="#d4111b"/>
<circle cx="275.15" cy="95.9" r="1.5" fill="#d4111b"/>
<circle cx="279.87" cy="57.6" r="1.5" fill="#d4111b"/>
<circle cx="284.58" cy="41.4" r="1.5" fill="#d4111b"/>
<circle cx="289.3" cy="48.4" r="1.5" fill="#d4111b"/>
<circle cx="294.02" cy="76.2" r="1.5" fill="#d4111b"/>
<circle cx="298.74" cy="86.7" r="1.5" fill="#d4111b"/>
<circle cx="303.46" cy="79.2" r="1.5" fill="#d4111b"/>
<circle cx="308.18" cy="51.4" r="1.5" fill="#d4111b"/>
<circle cx="312.9" cy="52.9" r="1.5" fill="#d4111b"/>
<circle cx="317.62" cy="53.4" r="1.5" fill="#d4111b"/>
<circle cx="322.34" cy="65.8" r="1.5" fill="#d4111b"/>
<circle cx="327.06" cy="94.2" r="1.5" fill="#d4111b"/>
<circle cx="331.77" cy="83.7" r="1.5" fill="#d4111b"/>
<circle cx="336.49" cy="57.3" r="1.5" fill="#d4111b"/>
<circle cx="341.21" cy="44.9" r="1.5" fill="#d4111b"/>
<circle cx="345.93" cy="66.8" r="1.5" fill="#d4111b"/>
<circle cx="350.65" cy="72.3" r="1.5" fill="#d4111b"/>
<circle cx="355.37" cy="99.1" r="1.5" fill="#d4111b"/>
<circle cx="360.09" cy="74.8" r="1.5" fill="#d4111b"/>
<circle cx="364.81" cy="66.3" r="1.5" fill="#d4111b"/>
<circle cx="369.53" cy="45.1" r="1.5" fill="#d4111b"/>
<circle cx="374.25" cy="46.9" r="1.5" fill="#d4111b"/>
<circle cx="378.96" cy="73.8" r="1.5" fill="#d4111b"/>
<circle cx="383.68" cy="101.1" r="1.5" fill="#d4111b"/>
<circle cx="388.4" cy="92.5" r="1.5" fill="#d4111b"/>
<circle cx="393.12" cy="53.9" r="1.5" fill="#d4111b"/>
<circle cx="397.84" cy="50.3" r="1.5" fill="#d4111b"/>
<circle cx="402.56" cy="49.9" r="1.5" fill="#d4111b"/>
<circle cx="407.28" cy="60.6" r="1.5" fill="#d4111b"/>
<circle cx="412" cy="77.3" r="1.5" fill="#d4111b"/>
<circle cx="416.72" cy="95.3" r="1.5" fill="#d4111b"/>
<circle cx="421.44" cy="54.8" r="1.5" fill="#d4111b"/>
<circle cx="426.15" cy="35.9" r="1.5" fill="#d4111b"/>
<circle cx="430.87" cy="44.4" r="1.5" fill="#d4111b"/>
<circle cx="435.59" cy="68.8" r="1.5" fill="#d4111b"/>
<circle cx="440.31" cy="93.7" r="1.5" fill="#d4111b"/>
<circle cx="445.03" cy="88.7" r="1.5" fill="#d4111b"/>
<circle cx="449.75" cy="54.4" r="1.5" fill="#d4111b"/>
<circle cx="454.47" cy="46.9" r="1.5" fill="#d4111b"/>
<circle cx="459.19" cy="60.2" r="1.5" fill="#d4111b"/>
<circle cx="463.91" cy="78" r="1.5" fill="#d4111b"/>
<circle cx="468.62" cy="86.2" r="1.5" fill="#d4111b"/>
<circle cx="473.34" cy="68" r="1.5" fill="#d4111b"/>
<circle cx="478.06" cy="68" r="1.5" fill="#d4111b"/>
<circle cx="482.78" cy="46.9" r="1.5" fill="#d4111b"/>
<circle cx="487.5" cy="59.3" r="1.5" fill="#d4111b"/>
<circle cx="492.22" cy="68.3" r="1.5" fill="#d4111b"/>
<circle cx="548.85" cy="87.5" r="1.5" fill="#d4111b"/>
<circle cx="553.57" cy="88.9" r="1.5" fill="#d4111b"/>
<circle cx="558.29" cy="90.6" r="1.5" fill="#d4111b"/>
<circle cx="563" cy="52.1" r="1.5" fill="#d4111b"/>
<circle cx="567.72" cy="49" r="1.5" fill="#d4111b"/>
<circle cx="572.44" cy="57.3" r="1.5" fill="#d4111b"/>
<circle cx="577.16" cy="61.3" r="1.5" fill="#d4111b"/>
<circle cx="581.88" cy="99.3" r="1.5" fill="#d4111b"/>
<circle cx="586.6" cy="88.7" r="1.5" fill="#d4111b"/>
<circle cx="591.32" cy="63.7" r="1.5" fill="#d4111b"/>
<circle cx="596.04" cy="45.1" r="1.5" fill="#d4111b"/>
<circle cx="600.76" cy="50.6" r="1.5" fill="#d4111b"/>
<circle cx="605.48" cy="65.8" r="1.5" fill="#d4111b"/>
<circle cx="610.2" cy="86.7" r="1.5" fill="#d4111b"/>
<circle cx="614.91" cy="93.4" r="1.5" fill="#d4111b"/>
<circle cx="619.63" cy="56.3" r="1.5" fill="#d4111b"/>
<polyline points="72.23,209.1 76.95,226 81.67,220.3 86.39,216.6 91.11,219.4 95.82,213.8 100.54,215.3 105.26,207.5 109.98,220 114.7,212.9 119.42,196.2 124.14,192.2 128.86,201.5 133.58,219 138.3,226.9 143.01,222.5 147.73,210.5 152.45,215.1 157.17,211.4 161.89,199.2 166.61,197.9 171.33,200.4 176.05,206.6 180.77,200.4 185.49,206.1 190.2,213.6 194.92,215.1 199.64,217.1 204.36,221.6 209.08,229.5 213.8,217.1 218.52,211.4 223.24,202.9 227.96,207.9 232.68,194.7 237.39,206.1 242.11,195.2 246.83,208.9 251.55,210.1 256.27,209.9 260.99,204.6 265.71,215.6 270.43,206.1 275.15,220.1 279.87,195.2 284.58,225.1 289.3,170.8 294.02,218.1 298.74,196.2 303.46,204.1 308.18,236.5 312.9,227.5 317.62,204.1 322.34,224.6 327.06,235.5 331.77,215.6 336.49,216.1 341.21,213.6 345.93,196.7 350.65,223.6 355.37,226.5 360.09,214.6 364.81,234.5 369.53,232.3 374.25,206.3 378.96,220.4 383.68,232.7 388.4,219.6" fill="none" stroke="#1a1a1a" stroke-width="1.1" stroke-linejoin="round"/>
<polyline points="397.84,222.8 402.56,202.7 407.28,223.4 412,222.5 416.72,234.9 421.44,235.3 426.15,222.8 430.87,209.6 435.59,222.1 440.31,230 445.03,227.8 449.75,220.8 454.47,222.1 459.19,183.8 463.91,216 468.62,202.7 473.34,224.6 478.06,218.8 482.78,220.1 487.5,210.9 492.22,200.9" fill="none" stroke="#1a1a1a" stroke-width="1.1" stroke-linejoin="round"/>
<polyline points="548.85,225.6 553.57,213.2 558.29,218.4 563,214.2 567.72,208.2 572.44,203.5 577.16,209.4 581.88,225.4 586.6,239.1 591.32,225.4 596.04,208.9 600.76,196.4 605.48,223.8 610.2,225.1 614.91,225.1 619.63,223.6" fill="none" stroke="#1a1a1a" stroke-width="1.1" stroke-linejoin="round"/>
<circle cx="72.23" cy="209.1" r="1.5" fill="#111"/>
<circle cx="76.95" cy="226" r="1.5" fill="#111"/>
<circle cx="81.67" cy="220.3" r="1.5" fill="#111"/>
<circle cx="86.39" cy="216.6" r="1.5" fill="#111"/>
<circle cx="91.11" cy="219.4" r="1.5" fill="#111"/>
<circle cx="95.82" cy="213.8" r="1.5" fill="#111"/>
<circle cx="100.54" cy="215.3" r="1.5" fill="#111"/>
<circle cx="105.26" cy="207.5" r="1.5" fill="#111"/>
<circle cx="109.98" cy="220" r="1.5" fill="#111"/>
<circle cx="114.7" cy="212.9" r="1.5" fill="#111"/>
<circle cx="119.42" cy="196.2" r="1.5" fill="#111"/>
<circle cx="124.14" cy="192.2" r="1.5" fill="#111"/>
<circle cx="128.86" cy="201.5" r="1.5" fill="#111"/>
<circle cx="133.58" cy="219" r="1.5" fill="#111"/>
<circle cx="138.3" cy="226.9" r="1.5" fill="#111"/>
<circle cx="143.01" cy="222.5" r="1.5" fill="#111"/>
<circle cx="147.73" cy="210.5" r="1.5" fill="#111"/>
<circle cx="152.45" cy="215.1" r="1.5" fill="#111"/>
<circle cx="157.17" cy="211.4" r="1.5" fill="#111"/>
<circle cx="161.89" cy="199.2" r="1.5" fill="#111"/>
<circle cx="166.61" cy="197.9" r="1.5" fill="#111"/>
<circle cx="171.33" cy="200.4" r="1.5" fill="#111"/>
<circle cx="176.05" cy="206.6" r="1.5" fill="#111"/>
<circle cx="180.77" cy="200.4" r="1.5" fill="#111"/>
<circle cx="185.49" cy="206.1" r="1.5" fill="#111"/>
<circle cx="190.2" cy="213.6" r="1.5" fill="#111"/>
<circle cx="194.92" cy="215.1" r="1.5" fill="#111"/>
<circle cx="199.64" cy="217.1" r="1.5" fill="#111"/>
<circle cx="204.36" cy="221.6" r="1.5" fill="#111"/>
<circle cx="209.08" cy="229.5" r="1.5" fill="#111"/>
<circle cx="213.8" cy="217.1" r="1.5" fill="#111"/>
<circle cx="218.52" cy="211.4" r="1.5" fill="#111"/>
<circle cx="223.24" cy="202.9" r="1.5" fill="#111"/>
<circle cx="227.96" cy="207.9" r="1.5" fill="#111"/>
<circle cx="232.68" cy="194.7" r="1.5" fill="#111"/>
<circle cx="237.39" cy="206.1" r="1.5" fill="#111"/>
<circle cx="242.11" cy="195.2" r="1.5" fill="#111"/>
<circle cx="246.83" cy="208.9" r="1.5" fill="#111"/>
<circle cx="251.55" cy="210.1" r="1.5" fill="#111"/>
<circle cx="256.27" cy="209.9" r="1.5" fill="#111"/>
<circle cx="260.99" cy="204.6" r="1.5" fill="#111"/>
<circle cx="265.71" cy="215.6" r="1.5" fill="#111"/>
<circle cx="270.43" cy="206.1" r="1.5" fill="#111"/>
<circle cx="275.15" cy="220.1" r="1.5" fill="#111"/>
<circle cx="279.87" cy="195.2" r="1.5" fill="#111"/>
<circle cx="284.58" cy="225.1" r="1.5" fill="#111"/>
<circle cx="289.3" cy="170.8" r="1.5" fill="#111"/>
<circle cx="294.02" cy="218.1" r="1.5" fill="#111"/>
<circle cx="298.74" cy="196.2" r="1.5" fill="#111"/>
<circle cx="303.46" cy="204.1" r="1.5" fill="#111"/>
<circle cx="308.18" cy="236.5" r="1.5" fill="#111"/>
<circle cx="312.9" cy="227.5" r="1.5" fill="#111"/>
<circle cx="317.62" cy="204.1" r="1.5" fill="#111"/>
<circle cx="322.34" cy="224.6" r="1.5" fill="#111"/>
<circle cx="327.06" cy="235.5" r="1.5" fill="#111"/>
<circle cx="331.77" cy="215.6" r="1.5" fill="#111"/>
<circle cx="336.49" cy="216.1" r="1.5" fill="#111"/>
<circle cx="341.21" cy="213.6" r="1.5" fill="#111"/>
<circle cx="345.93" cy="196.7" r="1.5" fill="#111"/>
<circle cx="350.65" cy="223.6" r="1.5" fill="#111"/>
<circle cx="355.37" cy="226.5" r="1.5" fill="#111"/>
<circle cx="360.09" cy="214.6" r="1.5" fill="#111"/>
<circle cx="364.81" cy="234.5" r="1.5" fill="#111"/>
<circle cx="369.53" cy="232.3" r="1.5" fill="#111"/>
<circle cx="374.25" cy="206.3" r="1.5" fill="#111"/>
<circle cx="378.96" cy="220.4" r="1.5" fill="#111"/>
<circle cx="383.68" cy="232.7" r="1.5" fill="#111"/>
<circle cx="388.4" cy="219.6" r="1.5" fill="#111"/>
<circle cx="397.84" cy="222.8" r="1.5" fill="#111"/>
<circle cx="402.56" cy="202.7" r="1.5" fill="#111"/>
<circle cx="407.28" cy="223.4" r="1.5" fill="#111"/>
<circle cx="412" cy="222.5" r="1.5" fill="#111"/>
<circle cx="416.72" cy="234.9" r="1.5" fill="#111"/>
<circle cx="421.44" cy="235.3" r="1.5" fill="#111"/>
<circle cx="426.15" cy="222.8" r="1.5" fill="#111"/>
<circle cx="430.87" cy="209.6" r="1.5" fill="#111"/>
<circle cx="435.59" cy="222.1" r="1.5" fill="#111"/>
<circle cx="440.31" cy="230" r="1.5" fill="#111"/>
<circle cx="445.03" cy="227.8" r="1.5" fill="#111"/>
<circle cx="449.75" cy="220.8" r="1.5" fill="#111"/>
<circle cx="454.47" cy="222.1" r="1.5" fill="#111"/>
<circle cx="459.19" cy="183.8" r="1.5" fill="#111"/>
<circle cx="463.91" cy="216" r="1.5" fill="#111"/>
<circle cx="468.62" cy="202.7" r="1.5" fill="#111"/>
<circle cx="473.34" cy="224.6" r="1.5" fill="#111"/>
<circle cx="478.06" cy="218.8" r="1.5" fill="#111"/>
<circle cx="482.78" cy="220.1" r="1.5" fill="#111"/>
<circle cx="487.5" cy="210.9" r="1.5" fill="#111"/>
<circle cx="492.22" cy="200.9" r="1.5" fill="#111"/>
<circle cx="548.85" cy="225.6" r="1.5" fill="#111"/>
<circle cx="553.57" cy="213.2" r="1.5" fill="#111"/>
<circle cx="558.29" cy="218.4" r="1.5" fill="#111"/>
<circle cx="563" cy="214.2" r="1.5" fill="#111"/>
<circle cx="567.72" cy="208.2" r="1.5" fill="#111"/>
<circle cx="572.44" cy="203.5" r="1.5" fill="#111"/>
<circle cx="577.16" cy="209.4" r="1.5" fill="#111"/>
<circle cx="581.88" cy="225.4" r="1.5" fill="#111"/>
<circle cx="586.6" cy="239.1" r="1.5" fill="#111"/>
<circle cx="591.32" cy="225.4" r="1.5" fill="#111"/>
<circle cx="596.04" cy="208.9" r="1.5" fill="#111"/>
<circle cx="600.76" cy="196.4" r="1.5" fill="#111"/>
<circle cx="605.48" cy="223.8" r="1.5" fill="#111"/>
<circle cx="610.2" cy="225.1" r="1.5" fill="#111"/>
<circle cx="614.91" cy="225.1" r="1.5" fill="#111"/>
<circle cx="619.63" cy="223.6" r="1.5" fill="#111"/>
<polyline points="72.23,183.1 76.95,187.3 81.67,183.6 86.39,187.3 91.11,184.9 95.82,171.7 100.54,192.7 105.26,214.1 109.98,210.3 114.7,224.9 119.42,222.6 124.14,223.4 128.86,208.4 133.58,214.7 138.3,177 143.01,179.2 147.73,184.8 152.45,181.1 157.17,192.8 161.89,194.8 166.61,204.7 171.33,228.2 176.05,230.4 180.77,208.5 185.49,216.4 190.2,199 194.92,184.8 199.64,192.8 204.36,189.8 209.08,178.9 213.8,197.3 218.52,210.2 223.24,211.2 227.96,235.1 232.68,222.2 237.39,225.9 242.11,229.6 246.83,224.7 251.55,192.8 256.27,163.7 260.99,164.4 265.71,165.4 270.43,199.3 275.15,215.2 279.87,208.5 284.58,220.9 289.3,224.7 294.02,215.2 298.74,202.3 303.46,186.1 308.18,168.7 312.9,183.6 317.62,178.6 322.34,171.9 327.06,194.3 331.77,200.5 336.49,208.5 341.21,222.7 345.93,242.1 350.65,217.7 355.37,215.2 360.09,181.1 364.81,182.8 369.53,174.9 374.25,170.7 378.96,180.8 383.68,200.1 388.4,210.9 393.12,204.2 397.84,228.4 402.56,224.7 407.28,205.3 412,192.9 416.72,204.2 421.44,173.1 426.15,164.4 430.87,167.9 435.59,175.6 440.31,193.1 445.03,205.5 449.75,205.2 454.47,224.7 459.19,237.6 463.91,224.7 468.62,202.8 473.34,174.1 478.06,187.8 482.78,177.4 487.5,185.3 492.22,174.9" fill="none" stroke="#2727d6" stroke-width="1.1" stroke-linejoin="round"/>
<polyline points="548.85,196 553.57,187.3 558.29,207.2 563,202.8 567.72,227.6 572.44,232.6 577.16,206.7 581.88,217.2 586.6,197.3 591.32,182.4 596.04,175.4 600.76,174.4 605.48,171.9 610.2,184.8 614.91,210.2 619.63,207.2" fill="none" stroke="#2727d6" stroke-width="1.1" stroke-linejoin="round"/>
<circle cx="72.23" cy="183.1" r="1.5" fill="#1414c0"/>
<circle cx="76.95" cy="187.3" r="1.5" fill="#1414c0"/>
<circle cx="81.67" cy="183.6" r="1.5" fill="#1414c0"/>
<circle cx="86.39" cy="187.3" r="1.5" fill="#1414c0"/>
<circle cx="91.11" cy="184.9" r="1.5" fill="#1414c0"/>
<circle cx="95.82" cy="171.7" r="1.5" fill="#1414c0"/>
<circle cx="100.54" cy="192.7" r="1.5" fill="#1414c0"/>
<circle cx="105.26" cy="214.1" r="1.5" fill="#1414c0"/>
<circle cx="109.98" cy="210.3" r="1.5" fill="#1414c0"/>
<circle cx="114.7" cy="224.9" r="1.5" fill="#1414c0"/>
<circle cx="119.42" cy="222.6" r="1.5" fill="#1414c0"/>
<circle cx="124.14" cy="223.4" r="1.5" fill="#1414c0"/>
<circle cx="128.86" cy="208.4" r="1.5" fill="#1414c0"/>
<circle cx="133.58" cy="214.7" r="1.5" fill="#1414c0"/>
<circle cx="138.3" cy="177" r="1.5" fill="#1414c0"/>
<circle cx="143.01" cy="179.2" r="1.5" fill="#1414c0"/>
<circle cx="147.73" cy="184.8" r="1.5" fill="#1414c0"/>
<circle cx="152.45" cy="181.1" r="1.5" fill="#1414c0"/>
<circle cx="157.17" cy="192.8" r="1.5" fill="#1414c0"/>
<circle cx="161.89" cy="194.8" r="1.5" fill="#1414c0"/>
<circle cx="166.61" cy="204.7" r="1.5" fill="#1414c0"/>
<circle cx="171.33" cy="228.2" r="1.5" fill="#1414c0"/>
<circle cx="176.05" cy="230.4" r="1.5" fill="#1414c0"/>
<circle cx="180.77" cy="208.5" r="1.5" fill="#1414c0"/>
<circle cx="185.49" cy="216.4" r="1.5" fill="#1414c0"/>
<circle cx="190.2" cy="199" r="1.5" fill="#1414c0"/>
<circle cx="194.92" cy="184.8" r="1.5" fill="#1414c0"/>
<circle cx="199.64" cy="192.8" r="1.5" fill="#1414c0"/>
<circle cx="204.36" cy="189.8" r="1.5" fill="#1414c0"/>
<circle cx="209.08" cy="178.9" r="1.5" fill="#1414c0"/>
<circle cx="213.8" cy="197.3" r="1.5" fill="#1414c0"/>
<circle cx="218.52" cy="210.2" r="1.5" fill="#1414c0"/>
<circle cx="223.24" cy="211.2" r="1.5" fill="#1414c0"/>
<circle cx="227.96" cy="235.1" r="1.5" fill="#1414c0"/>
<circle cx="232.68" cy="222.2" r="1.5" fill="#1414c0"/>
<circle cx="237.39" cy="225.9" r="1.5" fill="#1414c0"/>
<circle cx="242.11" cy="229.6" r="1.5" fill="#1414c0"/>
<circle cx="246.83" cy="224.7" r="1.5" fill="#1414c0"/>
<circle cx="251.55" cy="192.8" r="1.5" fill="#1414c0"/>
<circle cx="256.27" cy="163.7" r="1.5" fill="#1414c0"/>
<circle cx="260.99" cy="164.4" r="1.5" fill="#1414c0"/>
<circle cx="265.71" cy="165.4" r="1.5" fill="#1414c0"/>
<circle cx="270.43" cy="199.3" r="1.5" fill="#1414c0"/>
<circle cx="275.15" cy="215.2" r="1.5" fill="#1414c0"/>
<circle cx="279.87" cy="208.5" r="1.5" fill="#1414c0"/>
<circle cx="284.58" cy="220.9" r="1.5" fill="#1414c0"/>
<circle cx="289.3" cy="224.7" r="1.5" fill="#1414c0"/>
<circle cx="294.02" cy="215.2" r="1.5" fill="#1414c0"/>
<circle cx="298.74" cy="202.3" r="1.5" fill="#1414c0"/>
<circle cx="303.46" cy="186.1" r="1.5" fill="#1414c0"/>
<circle cx="308.18" cy="168.7" r="1.5" fill="#1414c0"/>
<circle cx="312.9" cy="183.6" r="1.5" fill="#1414c0"/>
<circle cx="317.62" cy="178.6" r="1.5" fill="#1414c0"/>
<circle cx="322.34" cy="171.9" r="1.5" fill="#1414c0"/>
<circle cx="327.06" cy="194.3" r="1.5" fill="#1414c0"/>
<circle cx="331.77" cy="200.5" r="1.5" fill="#1414c0"/>
<circle cx="336.49" cy="208.5" r="1.5" fill="#1414c0"/>
<circle cx="341.21" cy="222.7" r="1.5" fill="#1414c0"/>
<circle cx="345.93" cy="242.1" r="1.5" fill="#1414c0"/>
<circle cx="350.65" cy="217.7" r="1.5" fill="#1414c0"/>
<circle cx="355.37" cy="215.2" r="1.5" fill="#1414c0"/>
<circle cx="360.09" cy="181.1" r="1.5" fill="#1414c0"/>
<circle cx="364.81" cy="182.8" r="1.5" fill="#1414c0"/>
<circle cx="369.53" cy="174.9" r="1.5" fill="#1414c0"/>
<circle cx="374.25" cy="170.7" r="1.5" fill="#1414c0"/>
<circle cx="378.96" cy="180.8" r="1.5" fill="#1414c0"/>
<circle cx="383.68" cy="200.1" r="1.5" fill="#1414c0"/>
<circle cx="388.4" cy="210.9" r="1.5" fill="#1414c0"/>
<circle cx="393.12" cy="204.2" r="1.5" fill="#1414c0"/>
<circle cx="397.84" cy="228.4" r="1.5" fill="#1414c0"/>
<circle cx="402.56" cy="224.7" r="1.5" fill="#1414c0"/>
<circle cx="407.28" cy="205.3" r="1.5" fill="#1414c0"/>
<circle cx="412" cy="192.9" r="1.5" fill="#1414c0"/>
<circle cx="416.72" cy="204.2" r="1.5" fill="#1414c0"/>
<circle cx="421.44" cy="173.1" r="1.5" fill="#1414c0"/>
<circle cx="426.15" cy="164.4" r="1.5" fill="#1414c0"/>
<circle cx="430.87" cy="167.9" r="1.5" fill="#1414c0"/>
<circle cx="435.59" cy="175.6" r="1.5" fill="#1414c0"/>
<circle cx="440.31" cy="193.1" r="1.5" fill="#1414c0"/>
<circle cx="445.03" cy="205.5" r="1.5" fill="#1414c0"/>
<circle cx="449.75" cy="205.2" r="1.5" fill="#1414c0"/>
<circle cx="454.47" cy="224.7" r="1.5" fill="#1414c0"/>
<circle cx="459.19" cy="237.6" r="1.5" fill="#1414c0"/>
<circle cx="463.91" cy="224.7" r="1.5" fill="#1414c0"/>
<circle cx="468.62" cy="202.8" r="1.5" fill="#1414c0"/>
<circle cx="473.34" cy="174.1" r="1.5" fill="#1414c0"/>
<circle cx="478.06" cy="187.8" r="1.5" fill="#1414c0"/>
<circle cx="482.78" cy="177.4" r="1.5" fill="#1414c0"/>
<circle cx="487.5" cy="185.3" r="1.5" fill="#1414c0"/>
<circle cx="492.22" cy="174.9" r="1.5" fill="#1414c0"/>
<circle cx="548.85" cy="196" r="1.5" fill="#1414c0"/>
<circle cx="553.57" cy="187.3" r="1.5" fill="#1414c0"/>
<circle cx="558.29" cy="207.2" r="1.5" fill="#1414c0"/>
<circle cx="563" cy="202.8" r="1.5" fill="#1414c0"/>
<circle cx="567.72" cy="227.6" r="1.5" fill="#1414c0"/>
<circle cx="572.44" cy="232.6" r="1.5" fill="#1414c0"/>
<circle cx="577.16" cy="206.7" r="1.5" fill="#1414c0"/>
<circle cx="581.88" cy="217.2" r="1.5" fill="#1414c0"/>
<circle cx="586.6" cy="197.3" r="1.5" fill="#1414c0"/>
<circle cx="591.32" cy="182.4" r="1.5" fill="#1414c0"/>
<circle cx="596.04" cy="175.4" r="1.5" fill="#1414c0"/>
<circle cx="600.76" cy="174.4" r="1.5" fill="#1414c0"/>
<circle cx="605.48" cy="171.9" r="1.5" fill="#1414c0"/>
<circle cx="610.2" cy="184.8" r="1.5" fill="#1414c0"/>
<circle cx="614.91" cy="210.2" r="1.5" fill="#1414c0"/>
<circle cx="619.63" cy="207.2" r="1.5" fill="#1414c0"/>
<polyline points="72.23,328.8 76.95,339 81.67,354.4 86.39,341.1 91.11,342.8 95.82,339.9 100.54,340.9 105.26,339.7 109.98,348.7 114.7,341 119.42,338.5 124.14,346.9 128.86,345.5 133.58,341.4 138.3,339.6 143.01,334.1 147.73,338.4 152.45,337.1 157.17,333.2 161.89,326.7 166.61,330.8 171.33,331.6 176.05,334.7 180.77,342 185.49,340.4 190.2,347.4 194.92,354.1 199.64,350.4 204.36,353.3 209.08,358.1 213.8,357.2 218.52,364.5 223.24,377.6 227.96,374.8 232.68,362.9 237.39,358.6 242.11,348.4 246.83,349.4 251.55,356.3 256.27,347.8 260.99,346.9 265.71,343.9 270.43,331.2 275.15,314.6 279.87,306.7 284.58,306.2 289.3,313.6 294.02,322.4 298.74,314 303.46,310.4 308.18,312.5 312.9,311.1 317.62,311.1 322.34,321.9 327.06,324.2 331.77,331.1 336.49,330.7 341.21,327.6 345.93,326.2 350.65,328.6 355.37,326.6 360.09,333.4 364.81,338.5 369.53,333.4 374.25,328.4 378.96,328.6 383.68,319 388.4,318.4 393.12,323 397.84,318.5 402.56,315.9 407.28,312.8 412,305.5 416.72,303 421.44,309.5 426.15,302.2 430.87,303.6 435.59,315.3 440.31,325.5 445.03,317.9 449.75,313 454.47,320.8 459.19,323.6 463.91,330.2 468.62,326.7 473.34,333 478.06,335.5 482.78,337.5 487.5,325.4 492.22,324.9" fill="none" stroke="#33df33" stroke-width="1.1" stroke-linejoin="round"/>
<polyline points="548.85,331.1 553.57,334.5 558.29,336.8 563,337.3 567.72,333.2 572.44,335.1 577.16,327.3 581.88,325 586.6,320.7 591.32,329.4 596.04,329 600.76,332 605.48,324.7 610.2,325.9 614.91,337.7 619.63,346.6" fill="none" stroke="#33df33" stroke-width="1.1" stroke-linejoin="round"/>
<circle cx="72.23" cy="328.8" r="1.5" fill="#22cc22"/>
<circle cx="76.95" cy="339" r="1.5" fill="#22cc22"/>
<circle cx="81.67" cy="354.4" r="1.5" fill="#22cc22"/>
<circle cx="86.39" cy="341.1" r="1.5" fill="#22cc22"/>
<circle cx="91.11" cy="342.8" r="1.5" fill="#22cc22"/>
<circle cx="95.82" cy="339.9" r="1.5" fill="#22cc22"/>
<circle cx="100.54" cy="340.9" r="1.5" fill="#22cc22"/>
<circle cx="105.26" cy="339.7" r="1.5" fill="#22cc22"/>
<circle cx="109.98" cy="348.7" r="1.5" fill="#22cc22"/>
<circle cx="114.7" cy="341" r="1.5" fill="#22cc22"/>
<circle cx="119.42" cy="338.5" r="1.5" fill="#22cc22"/>
<circle cx="124.14" cy="346.9" r="1.5" fill="#22cc22"/>
<circle cx="128.86" cy="345.5" r="1.5" fill="#22cc22"/>
<circle cx="133.58" cy="341.4" r="1.5" fill="#22cc22"/>
<circle cx="138.3" cy="339.6" r="1.5" fill="#22cc22"/>
<circle cx="143.01" cy="334.1" r="1.5" fill="#22cc22"/>
<circle cx="147.73" cy="338.4" r="1.5" fill="#22cc22"/>
<circle cx="152.45" cy="337.1" r="1.5" fill="#22cc22"/>
<circle cx="157.17" cy="333.2" r="1.5" fill="#22cc22"/>
<circle cx="161.89" cy="326.7" r="1.5" fill="#22cc22"/>
<circle cx="166.61" cy="330.8" r="1.5" fill="#22cc22"/>
<circle cx="171.33" cy="331.6" r="1.5" fill="#22cc22"/>
<circle cx="176.05" cy="334.7" r="1.5" fill="#22cc22"/>
<circle cx="180.77" cy="342" r="1.5" fill="#22cc22"/>
<circle cx="185.49" cy="340.4" r="1.5" fill="#22cc22"/>
<circle cx="190.2" cy="347.4" r="1.5" fill="#22cc22"/>
<circle cx="194.92" cy="354.1" r="1.5" fill="#22cc22"/>
<circle cx="199.64" cy="350.4" r="1.5" fill="#22cc22"/>
<circle cx="204.36" cy="353.3" r="1.5" fill="#22cc22"/>
<circle cx="209.08" cy="358.1" r="1.5" fill="#22cc22"/>
<circle cx="213.8" cy="357.2" r="1.5" fill="#22cc22"/>
<circle cx="218.52" cy="364.5" r="1.5" fill="#22cc22"/>
<circle cx="223.24" cy="377.6" r="1.5" fill="#22cc22"/>
<circle cx="227.96" cy="374.8" r="1.5" fill="#22cc22"/>
<circle cx="232.68" cy="362.9" r="1.5" fill="#22cc22"/>
<circle cx="237.39" cy="358.6" r="1.5" fill="#22cc22"/>
<circle cx="242.11" cy="348.4" r="1.5" fill="#22cc22"/>
<circle cx="246.83" cy="349.4" r="1.5" fill="#22cc22"/>
<circle cx="251.55" cy="356.3" r="1.5" fill="#22cc22"/>
<circle cx="256.27" cy="347.8" r="1.5" fill="#22cc22"/>
<circle cx="260.99" cy="346.9" r="1.5" fill="#22cc22"/>
<circle cx="265.71" cy="343.9" r="1.5" fill="#22cc22"/>
<circle cx="270.43" cy="331.2" r="1.5" fill="#22cc22"/>
<circle cx="275.15" cy="314.6" r="1.5" fill="#22cc22"/>
<circle cx="279.87" cy="306.7" r="1.5" fill="#22cc22"/>
<circle cx="284.58" cy="306.2" r="1.5" fill="#22cc22"/>
<circle cx="289.3" cy="313.6" r="1.5" fill="#22cc22"/>
<circle cx="294.02" cy="322.4" r="1.5" fill="#22cc22"/>
<circle cx="298.74" cy="314" r="1.5" fill="#22cc22"/>
<circle cx="303.46" cy="310.4" r="1.5" fill="#22cc22"/>
<circle cx="308.18" cy="312.5" r="1.5" fill="#22cc22"/>
<circle cx="312.9" cy="311.1" r="1.5" fill="#22cc22"/>
<circle cx="317.62" cy="311.1" r="1.5" fill="#22cc22"/>
<circle cx="322.34" cy="321.9" r="1.5" fill="#22cc22"/>
<circle cx="327.06" cy="324.2" r="1.5" fill="#22cc22"/>
<circle cx="331.77" cy="331.1" r="1.5" fill="#22cc22"/>
<circle cx="336.49" cy="330.7" r="1.5" fill="#22cc22"/>
<circle cx="341.21" cy="327.6" r="1.5" fill="#22cc22"/>
<circle cx="345.93" cy="326.2" r="1.5" fill="#22cc22"/>
<circle cx="350.65" cy="328.6" r="1.5" fill="#22cc22"/>
<circle cx="355.37" cy="326.6" r="1.5" fill="#22cc22"/>
<circle cx="360.09" cy="333.4" r="1.5" fill="#22cc22"/>
<circle cx="364.81" cy="338.5" r="1.5" fill="#22cc22"/>
<circle cx="369.53" cy="333.4" r="1.5" fill="#22cc22"/>
<circle cx="374.25" cy="328.4" r="1.5" fill="#22cc22"/>
<circle cx="378.96" cy="328.6" r="1.5" fill="#22cc22"/>
<circle cx="383.68" cy="319" r="1.5" fill="#22cc22"/>
<circle cx="388.4" cy="318.4" r="1.5" fill="#22cc22"/>
<circle cx="393.12" cy="323" r="1.5" fill="#22cc22"/>
<circle cx="397.84" cy="318.5" r="1.5" fill="#22cc22"/>
<circle cx="402.56" cy="315.9" r="1.5" fill="#22cc22"/>
<circle cx="407.28" cy="312.8" r="1.5" fill="#22cc22"/>
<circle cx="412" cy="305.5" r="1.5" fill="#22cc22"/>
<circle cx="416.72" cy="303" r="1.5" fill="#22cc22"/>
<circle cx="421.44" cy="309.5" r="1.5" fill="#22cc22"/>
<circle cx="426.15" cy="302.2" r="1.5" fill="#22cc22"/>
<circle cx="430.87" cy="303.6" r="1.5" fill="#22cc22"/>
<circle cx="435.59" cy="315.3" r="1.5" fill="#22cc22"/>
<circle cx="440.31" cy="325.5" r="1.5" fill="#22cc22"/>
<circle cx="445.03" cy="317.9" r="1.5" fill="#22cc22"/>
<circle cx="449.75" cy="313" r="1.5" fill="#22cc22"/>
<circle cx="454.47" cy="320.8" r="1.5" fill="#22cc22"/>
<circle cx="459.19" cy="323.6" r="1.5" fill="#22cc22"/>
<circle cx="463.91" cy="330.2" r="1.5" fill="#22cc22"/>
<circle cx="468.62" cy="326.7" r="1.5" fill="#22cc22"/>
<circle cx="473.34" cy="333" r="1.5" fill="#22cc22"/>
<circle cx="478.06" cy="335.5" r="1.5" fill="#22cc22"/>
<circle cx="482.78" cy="337.5" r="1.5" fill="#22cc22"/>
<circle cx="487.5" cy="325.4" r="1.5" fill="#22cc22"/>
<circle cx="492.22" cy="324.9" r="1.5" fill="#22cc22"/>
<circle cx="548.85" cy="331.1" r="1.5" fill="#22cc22"/>
<circle cx="553.57" cy="334.5" r="1.5" fill="#22cc22"/>
<circle cx="558.29" cy="336.8" r="1.5" fill="#22cc22"/>
<circle cx="563" cy="337.3" r="1.5" fill="#22cc22"/>
<circle cx="567.72" cy="333.2" r="1.5" fill="#22cc22"/>
<circle cx="572.44" cy="335.1" r="1.5" fill="#22cc22"/>
<circle cx="577.16" cy="327.3" r="1.5" fill="#22cc22"/>
<circle cx="581.88" cy="325" r="1.5" fill="#22cc22"/>
<circle cx="586.6" cy="320.7" r="1.5" fill="#22cc22"/>
<circle cx="591.32" cy="329.4" r="1.5" fill="#22cc22"/>
<circle cx="596.04" cy="329" r="1.5" fill="#22cc22"/>
<circle cx="600.76" cy="332" r="1.5" fill="#22cc22"/>
<circle cx="605.48" cy="324.7" r="1.5" fill="#22cc22"/>
<circle cx="610.2" cy="325.9" r="1.5" fill="#22cc22"/>
<circle cx="614.91" cy="337.7" r="1.5" fill="#22cc22"/>
<circle cx="619.63" cy="346.6" r="1.5" fill="#22cc22"/>
<polyline points="72.23,337 76.95,353.9 81.67,348.2 86.39,344.5 91.11,347.3 95.82,341.7 100.54,343.2 105.26,335.4 109.98,347.9 114.7,340.8 119.42,324.1 124.14,320.1 128.86,329.4 133.58,346.9 138.3,354.8 143.01,350.4 147.73,338.4 152.45,343 157.17,339.3 161.89,327.1 166.61,325.8 171.33,328.3 176.05,334.5 180.77,328.3 185.49,334 190.2,341.5 194.92,343 199.64,345 204.36,349.5 209.08,357.4 213.8,345 218.52,339.3 223.24,330.8 227.96,335.8 232.68,322.6 237.39,334 242.11,323.1 246.83,336.8 251.55,338 256.27,337.8 260.99,332.5 265.71,343.5 270.43,334 275.15,348 279.87,323.1 284.58,353 289.3,298.7 294.02,346 298.74,324.1 303.46,332 308.18,364.4 312.9,355.4 317.62,332 322.34,352.5 327.06,363.4 331.77,343.5 336.49,344 341.21,341.5 345.93,324.6 350.65,351.5 355.37,354.4 360.09,342.5 364.81,362.4 369.53,360.2 374.25,334.2 378.96,348.3 383.68,360.6 388.4,347.5" fill="none" stroke="#1a1a1a" stroke-width="1.1" stroke-linejoin="round"/>
<polyline points="397.84,350.7 402.56,330.6 407.28,351.3 412,350.4 416.72,362.8 421.44,363.2 426.15,350.7 430.87,337.5 435.59,350 440.31,357.9 445.03,355.7 449.75,348.7 454.47,350 459.19,311.7 463.91,343.9 468.62,330.6 473.34,352.5 478.06,346.7 482.78,348 487.5,338.8 492.22,328.8" fill="none" stroke="#1a1a1a" stroke-width="1.1" stroke-linejoin="round"/>
<polyline points="548.85,353.5 553.57,341.1 558.29,346.3 563,342.1 567.72,336.1 572.44,331.4 577.16,337.3 581.88,353.3 586.6,367 591.32,353.3 596.04,336.8 600.76,324.3 605.48,351.7 610.2,353 614.91,353 619.63,351.5" fill="none" stroke="#1a1a1a" stroke-width="1.1" stroke-linejoin="round"/>
<circle cx="72.23" cy="337" r="1.5" fill="#111"/>
<circle cx="76.95" cy="353.9" r="1.5" fill="#111"/>
<circle cx="81.67" cy="348.2" r="1.5" fill="#111"/>
<circle cx="86.39" cy="344.5" r="1.5" fill="#111"/>
<circle cx="91.11" cy="347.3" r="1.5" fill="#111"/>
<circle cx="95.82" cy="341.7" r="1.5" fill="#111"/>
<circle cx="100.54" cy="343.2" r="1.5" fill="#111"/>
<circle cx="105.26" cy="335.4" r="1.5" fill="#111"/>
<circle cx="109.98" cy="347.9" r="1.5" fill="#111"/>
<circle cx="114.7" cy="340.8" r="1.5" fill="#111"/>
<circle cx="119.42" cy="324.1" r="1.5" fill="#111"/>
<circle cx="124.14" cy="320.1" r="1.5" fill="#111"/>
<circle cx="128.86" cy="329.4" r="1.5" fill="#111"/>
<circle cx="133.58" cy="346.9" r="1.5" fill="#111"/>
<circle cx="138.3" cy="354.8" r="1.5" fill="#111"/>
<circle cx="143.01" cy="350.4" r="1.5" fill="#111"/>
<circle cx="147.73" cy="338.4" r="1.5" fill="#111"/>
<circle cx="152.45" cy="343" r="1.5" fill="#111"/>
<circle cx="157.17" cy="339.3" r="1.5" fill="#111"/>
<circle cx="161.89" cy="327.1" r="1.5" fill="#111"/>
<circle cx="166.61" cy="325.8" r="1.5" fill="#111"/>
<circle cx="171.33" cy="328.3" r="1.5" fill="#111"/>
<circle cx="176.05" cy="334.5" r="1.5" fill="#111"/>
<circle cx="180.77" cy="328.3" r="1.5" fill="#111"/>
<circle cx="185.49" cy="334" r="1.5" fill="#111"/>
<circle cx="190.2" cy="341.5" r="1.5" fill="#111"/>
<circle cx="194.92" cy="343" r="1.5" fill="#111"/>
<circle cx="199.64" cy="345" r="1.5" fill="#111"/>
<circle cx="204.36" cy="349.5" r="1.5" fill="#111"/>
<circle cx="209.08" cy="357.4" r="1.5" fill="#111"/>
<circle cx="213.8" cy="345" r="1.5" fill="#111"/>
<circle cx="218.52" cy="339.3" r="1.5" fill="#111"/>
<circle cx="223.24" cy="330.8" r="1.5" fill="#111"/>
<circle cx="227.96" cy="335.8" r="1.5" fill="#111"/>
<circle cx="232.68" cy="322.6" r="1.5" fill="#111"/>
<circle cx="237.39" cy="334" r="1.5" fill="#111"/>
<circle cx="242.11" cy="323.1" r="1.5" fill="#111"/>
<circle cx="246.83" cy="336.8" r="1.5" fill="#111"/>
<circle cx="251.55" cy="338" r="1.5" fill="#111"/>
<circle cx="256.27" cy="337.8" r="1.5" fill="#111"/>
<circle cx="260.99" cy="332.5" r="1.5" fill="#111"/>
<circle cx="265.71" cy="343.5" r="1.5" fill="#111"/>
<circle cx="270.43" cy="334" r="1.5" fill="#111"/>
<circle cx="275.15" cy="348" r="1.5" fill="#111"/>
<circle cx="279.87" cy="323.1" r="1.5" fill="#111"/>
<circle cx="284.58" cy="353" r="1.5" fill="#111"/>
<circle cx="289.3" cy="298.7" r="1.5" fill="#111"/>
<circle cx="294.02" cy="346" r="1.5" fill="#111"/>
<circle cx="298.74" cy="324.1" r="1.5" fill="#111"/>
<circle cx="303.46" cy="332" r="1.5" fill="#111"/>
<circle cx="308.18" cy="364.4" r="1.5" fill="#111"/>
<circle cx="312.9" cy="355.4" r="1.5" fill="#111"/>
<circle cx="317.62" cy="332" r="1.5" fill="#111"/>
<circle cx="322.34" cy="352.5" r="1.5" fill="#111"/>
<circle cx="327.06" cy="363.4" r="1.5" fill="#111"/>
<circle cx="331.77" cy="343.5" r="1.5" fill="#111"/>
<circle cx="336.49" cy="344" r="1.5" fill="#111"/>
<circle cx="341.21" cy="341.5" r="1.5" fill="#111"/>
<circle cx="345.93" cy="324.6" r="1.5" fill="#111"/>
<circle cx="350.65" cy="351.5" r="1.5" fill="#111"/>
<circle cx="355.37" cy="354.4" r="1.5" fill="#111"/>
<circle cx="360.09" cy="342.5" r="1.5" fill="#111"/>
<circle cx="364.81" cy="362.4" r="1.5" fill="#111"/>
<circle cx="369.53" cy="360.2" r="1.5" fill="#111"/>
<circle cx="374.25" cy="334.2" r="1.5" fill="#111"/>
<circle cx="378.96" cy="348.3" r="1.5" fill="#111"/>
<circle cx="383.68" cy="360.6" r="1.5" fill="#111"/>
<circle cx="388.4" cy="347.5" r="1.5" fill="#111"/>
<circle cx="397.84" cy="350.7" r="1.5" fill="#111"/>
<circle cx="402.56" cy="330.6" r="1.5" fill="#111"/>
<circle cx="407.28" cy="351.3" r="1.5" fill="#111"/>
<circle cx="412" cy="350.4" r="1.5" fill="#111"/>
<circle cx="416.72" cy="362.8" r="1.5" fill="#111"/>
<circle cx="421.44" cy="363.2" r="1.5" fill="#111"/>
<circle cx="426.15" cy="350.7" r="1.5" fill="#111"/>
<circle cx="430.87" cy="337.5" r="1.5" fill="#111"/>
<circle cx="435.59" cy="350" r="1.5" fill="#111"/>
<circle cx="440.31" cy="357.9" r="1.5" fill="#111"/>
<circle cx="445.03" cy="355.7" r="1.5" fill="#111"/>
<circle cx="449.75" cy="348.7" r="1.5" fill="#111"/>
<circle cx="454.47" cy="350" r="1.5" fill="#111"/>
<circle cx="459.19" cy="311.7" r="1.5" fill="#111"/>
<circle cx="463.91" cy="343.9" r="1.5" fill="#111"/>
<circle cx="468.62" cy="330.6" r="1.5" fill="#111"/>
<circle cx="473.34" cy="352.5" r="1.5" fill="#111"/>
<circle cx="478.06" cy="346.7" r="1.5" fill="#111"/>
<circle cx="482.78" cy="348" r="1.5" fill="#111"/>
<circle cx="487.5" cy="338.8" r="1.5" fill="#111"/>
<circle cx="492.22" cy="328.8" r="1.5" fill="#111"/>
<circle cx="548.85" cy="353.5" r="1.5" fill="#111"/>
<circle cx="553.57" cy="341.1" r="1.5" fill="#111"/>
<circle cx="558.29" cy="346.3" r="1.5" fill="#111"/>
<circle cx="563" cy="342.1" r="1.5" fill="#111"/>
<circle cx="567.72" cy="336.1" r="1.5" fill="#111"/>
<circle cx="572.44" cy="331.4" r="1.5" fill="#111"/>
<circle cx="577.16" cy="337.3" r="1.5" fill="#111"/>
<circle cx="581.88" cy="353.3" r="1.5" fill="#111"/>
<circle cx="586.6" cy="367" r="1.5" fill="#111"/>
<circle cx="591.32" cy="353.3" r="1.5" fill="#111"/>
<circle cx="596.04" cy="336.8" r="1.5" fill="#111"/>
<circle cx="600.76" cy="324.3" r="1.5" fill="#111"/>
<circle cx="605.48" cy="351.7" r="1.5" fill="#111"/>
<circle cx="610.2" cy="353" r="1.5" fill="#111"/>
<circle cx="614.91" cy="353" r="1.5" fill="#111"/>
<circle cx="619.63" cy="351.5" r="1.5" fill="#111"/>
<text x="511.5" y="65.8" font-size="22.1">(a)</text>
<text x="514.0" y="187.8" font-size="22.1">(b)</text>
<text x="517.6" y="315.0" font-size="22.1">(c)</text>
<path d="M294 3.3 H337" stroke="#1a1a1a" stroke-width="1.1"/><circle cx="315.5" cy="3.3" r="1.5" fill="#111"/>
<path d="M293.3 21.7 H336.4" stroke="#e5252d" stroke-width="1.0"/><circle cx="314.85" cy="21.7" r="1.5" fill="#d4111b"/>
<path d="M457.5 7.5 H500.8" stroke="#2727d6" stroke-width="1.0"/><circle cx="479.15" cy="7.5" r="1.5" fill="#1414c0"/>
<path d="M458.5 24.4 H500.9" stroke="#33df33" stroke-width="1.0"/><circle cx="479.7" cy="24.4" r="1.5" fill="#22cc22"/>
<text x="340.3" y="9.6" font-size="13.75">QTDW energy</text>
<text x="340.0" y="28.0" font-size="13.75">Deseasonalized-AO</text>
<text x="504.2" y="13.6" font-size="13.75">Deseasonalized-SAO</text>
<text x="504.7" y="30.6" font-size="13.75">Deseasonalized</text>
<text transform="translate(14.0,218.1) rotate(-90)" font-size="19.1" text-anchor="middle">QTDW kinetic energy (J/kg)</text>
<text transform="translate(680.2,196.3) rotate(-90)" font-size="19.1" text-anchor="middle">Deseasonalized wind (m/s)</text>
<text x="357.9" y="429.6" font-size="19.1" text-anchor="middle" letter-spacing="0.2">Time (Year)</text>
</svg></body></html>
